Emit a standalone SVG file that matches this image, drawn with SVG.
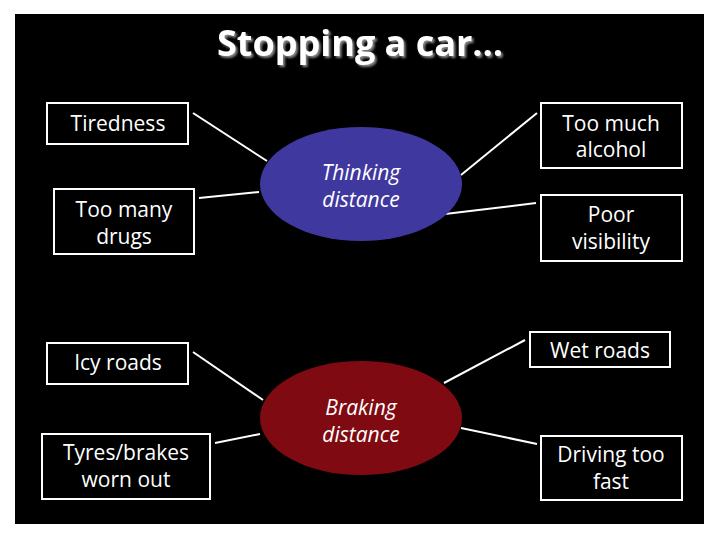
<svg xmlns="http://www.w3.org/2000/svg" width="720" height="540" viewBox="0 0 720 540">
<style>
.box{fill:#000;stroke:#fff;stroke-width:2}
.t{font-family:"Open Sans","DejaVu Sans",sans-serif;font-size:21px;fill:#fff;text-anchor:middle}
.e{font-family:"Open Sans","DejaVu Sans",sans-serif;font-size:21px;fill:#fff;text-anchor:middle;font-style:italic}
.c line{stroke:#fff;stroke-width:2}
.title{font-family:"Open Sans","DejaVu Sans",sans-serif;font-size:36px;font-weight:bold;text-anchor:middle;fill:#fff}
</style>
<defs>
<filter id="sh" x="-10%" y="-30%" width="120%" height="160%">
<feDropShadow dx="2" dy="2" stdDeviation="0.8" flood-color="#888" flood-opacity="1"/>
</filter>
</defs>
<rect width="720" height="540" fill="#fff"/>
<rect x="15" y="14" width="689" height="510" fill="#000"/>
<text class="title" x="360" y="56" filter="url(#sh)">Stopping a car…</text>
<g class="c" id="connectors">
<line x1="193" y1="113" x2="267" y2="161"/>
<line x1="199" y1="198" x2="259" y2="192"/>
<line x1="537" y1="113" x2="461" y2="175"/>
<line x1="536" y1="203" x2="445" y2="214"/>
<line x1="193" y1="352" x2="263" y2="400"/>
<line x1="215" y1="443" x2="260" y2="434"/>
<line x1="525" y1="340" x2="444" y2="383"/>
<line x1="461" y1="428" x2="537" y2="444"/>
</g>
<g id="thinking"><ellipse cx="361" cy="184" rx="101" ry="57" fill="#3f389f"/><text class="e" x="361" y="180">Thinking</text><text class="e" x="361" y="207">distance</text></g>
<g id="braking"><ellipse cx="361" cy="418" rx="101" ry="57" fill="#7f0a12"/><text class="e" x="361" y="415">Braking</text><text class="e" x="361" y="442">distance</text></g>
<g id="tiredness"><rect class="box" x="47" y="103" width="141" height="41"/><text class="t" x="118" y="131">Tiredness</text></g>
<g id="drugs"><rect class="box" x="54" y="189" width="140" height="65"/><text class="t" x="124" y="217">Too many</text><text class="t" x="124" y="244">drugs</text></g>
<g id="alcohol"><rect class="box" x="541" y="103" width="141" height="65"/><text class="t" x="611" y="131">Too much</text><text class="t" x="611" y="157">alcohol</text></g>
<g id="visibility"><rect class="box" x="541" y="195" width="141" height="66"/><text class="t" x="611" y="222">Poor</text><text class="t" x="611" y="249">visibility</text></g>
<g id="icy"><rect class="box" x="47" y="343" width="141" height="41"/><text class="t" x="118" y="370">Icy roads</text></g>
<g id="tyres"><rect class="box" x="42" y="434" width="168" height="65"/><text class="t" x="126" y="460">Tyres/brakes</text><text class="t" x="126" y="487">worn out</text></g>
<g id="wet"><rect class="box" x="530" y="332" width="140" height="35"/><text class="t" x="600" y="358">Wet roads</text></g>
<g id="fast"><rect class="box" x="541" y="436" width="141" height="64"/><text class="t" x="611" y="462">Driving too</text><text class="t" x="611" y="489">fast</text></g>
</svg>
